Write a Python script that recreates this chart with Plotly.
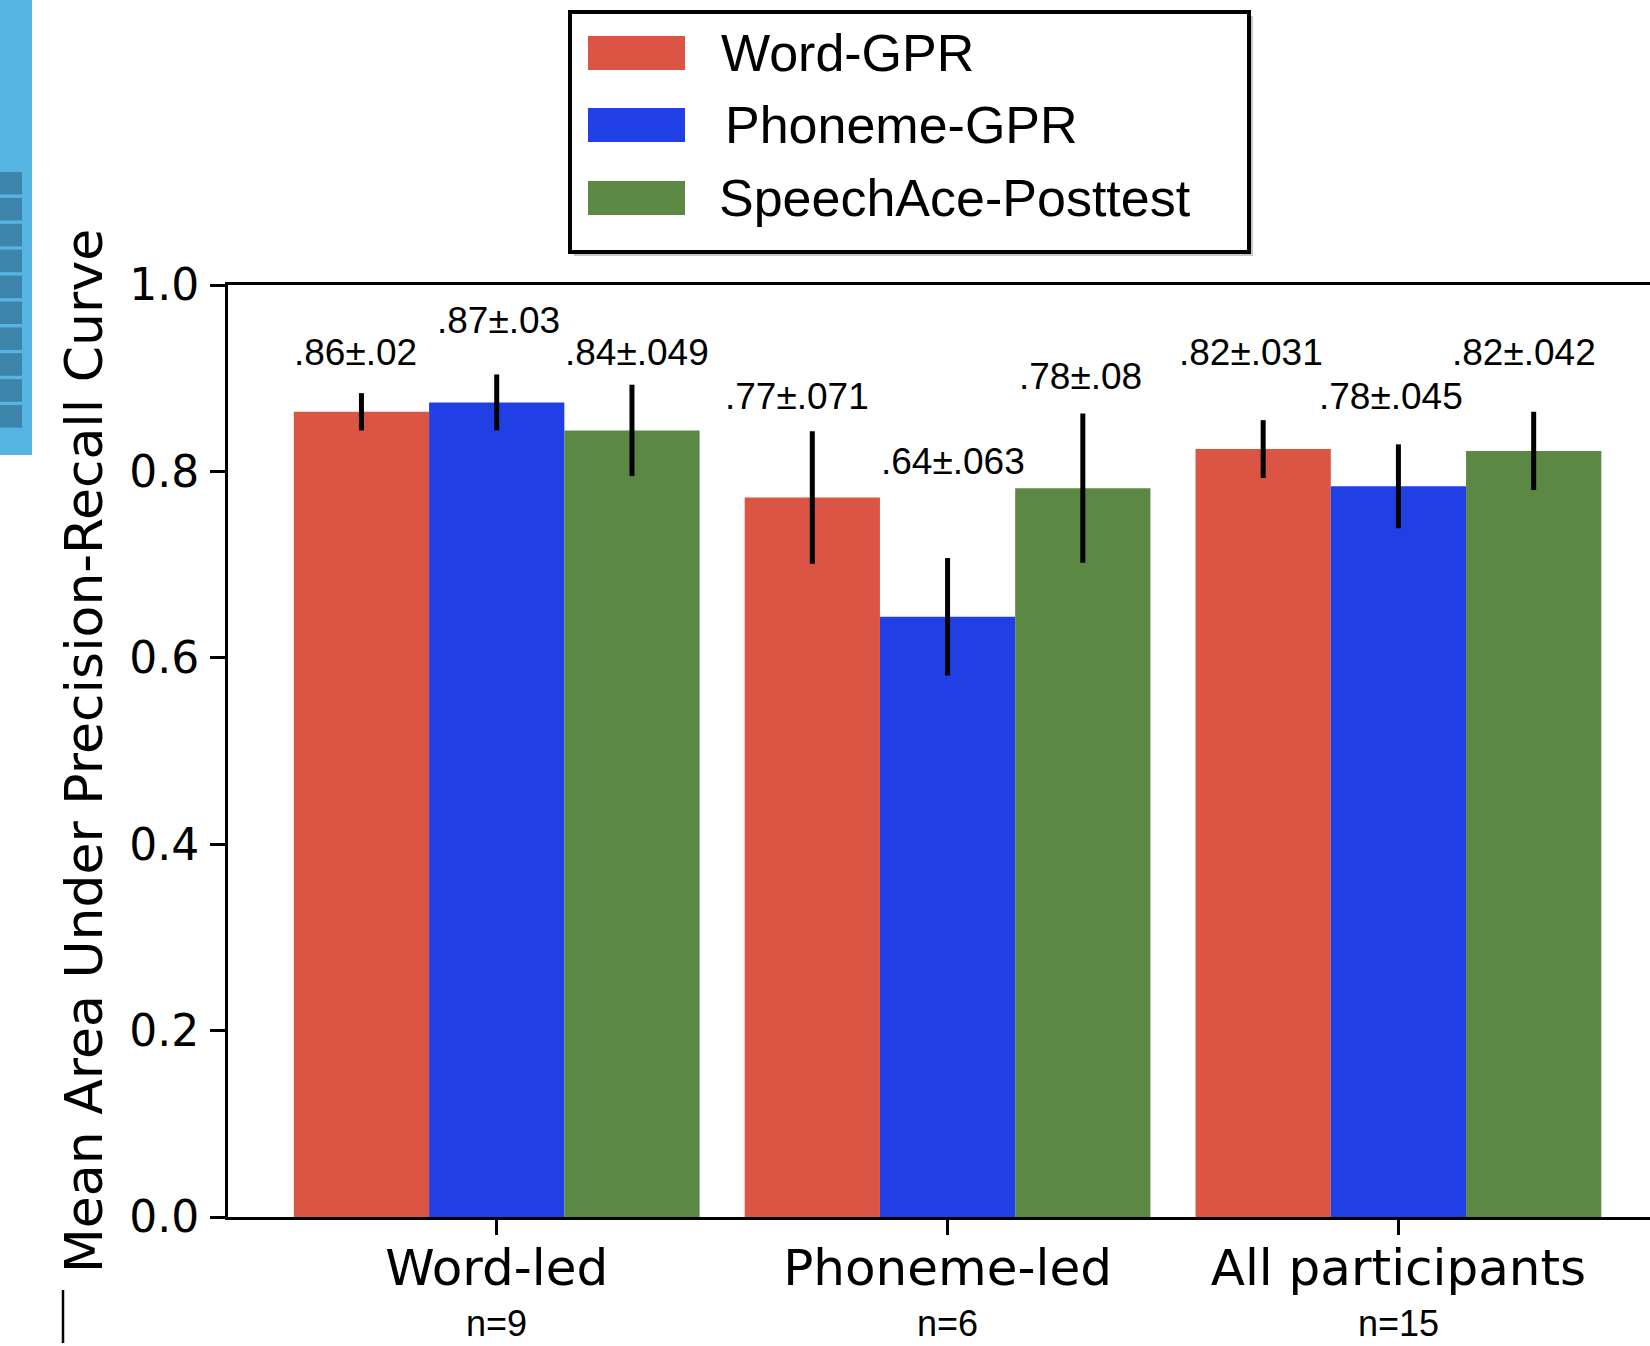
import plotly.graph_objects as go

# ---- data -------------------------------------------------------------
groups = ["Word-led", "Phoneme-led", "All participants"]
group_sizes = ["n=9", "n=6", "n=15"]
series_names = ["Word-GPR", "Phoneme-GPR", "SpeechAce-Posttest"]

word_gpr_mean = [0.864, 0.772, 0.824]
word_gpr_err = [0.02, 0.071, 0.031]
phoneme_gpr_mean = [0.874, 0.644, 0.784]
phoneme_gpr_err = [0.03, 0.063, 0.045]
speechace_mean = [0.844, 0.782, 0.822]
speechace_err = [0.049, 0.08, 0.042]

y_ticks = [0.0, 0.2, 0.4, 0.6, 0.8, 1.0]

# ---- styling ----------------------------------------------------------
colors = ["#DB5444", "#2040E6", "#5B8842"]
W, H = 1650, 1346
L, R, T, B = 228, 0, 285, 129
PW, PH = W - L - R, H - T - B
BAR_W = 0.3
offsets = [-BAR_W, 0.0, BAR_W]

# label placement (data-y of each value label, per series then group)
label_y = [
    [0.928, 0.880, 0.928],   # Word-GPR
    [0.962, 0.811, 0.880],   # Phoneme-GPR
    [0.928, 0.902, 0.928],   # SpeechAce-Posttest
]
label_dx = [
    [-6, -15, -12],
    [2, 5, -7],
    [5, -2, -10],
]


def px(x):
    return (x - L) / PW


def py(y):
    return (H - B - y) / PH


def fmt(v, digits):
    return f"{v:.{digits}f}".lstrip("0")


def fmt_err(e):
    return f"{e:g}".lstrip("0")


means = [word_gpr_mean, phoneme_gpr_mean, speechace_mean]
errs = [word_gpr_err, phoneme_gpr_err, speechace_err]
xs = list(range(len(groups)))

fig = go.Figure()
for name, m, e, c in zip(series_names, means, errs, colors):
    fig.add_trace(go.Bar(
        name=name, x=xs, y=m,
        marker=dict(color=c, line=dict(width=0)),
        error_y=dict(type="data", array=e, visible=True,
                     color="black", thickness=5, width=0),
    ))

annotations = []
for s, (m, e) in enumerate(zip(means, errs)):
    for g in xs:
        annotations.append(dict(
            x=g + offsets[s], y=label_y[s][g], xref="x", yref="y",
            text=f"{fmt(m[g], 2)}±{fmt_err(e[g])}",
            showarrow=False, xshift=label_dx[s][g],
            xanchor="center", yanchor="middle",
            font=dict(family="Liberation Sans, Arial", size=37, color="black"),
        ))

# group sizes under the category labels
for g, txt in zip(xs, group_sizes):
    annotations.append(dict(
        x=g, y=py(1323), xref="x", yref="paper", text=txt, showarrow=False,
        xanchor="center", yanchor="middle",
        font=dict(family="Liberation Sans, Arial", size=36, color="black"),
    ))

# y-axis title
annotations.append(dict(
    x=px(84), y=0.5, xref="paper", yref="paper",
    text="Mean Area Under Precision-Recall Curve", textangle=-90,
    showarrow=False, xanchor="center", yanchor="middle",
    font=dict(family="DejaVu Sans", size=52, color="black"),
))

shapes = []
# boxed legend
box = (570, 12, 1249, 252)
shapes.append(dict(type="rect", xref="paper", yref="paper",
                   x0=px(box[0] + 4), x1=px(box[2] + 4),
                   y0=py(box[1] + 4), y1=py(box[3] + 4),
                   fillcolor="rgba(0,0,0,0.22)", line=dict(width=0), layer="above"))
shapes.append(dict(type="rect", xref="paper", yref="paper",
                   x0=px(box[0]), x1=px(box[2]), y0=py(box[1]), y1=py(box[3]),
                   fillcolor="white", line=dict(color="black", width=4), layer="above"))
row_centers = [53, 125, 198]
text_x = [719, 723, 717]
for name, c, yc, tx in zip(series_names, colors, row_centers, text_x):
    shapes.append(dict(type="rect", xref="paper", yref="paper",
                       x0=px(588), x1=px(685), y0=py(yc - 17), y1=py(yc + 17),
                       fillcolor=c, line=dict(width=0), layer="above"))
    annotations.append(dict(
        x=px(tx), y=py(yc), xref="paper", yref="paper", text=name,
        showarrow=False, xanchor="left", yanchor="middle",
        font=dict(family="Liberation Sans, Arial", size=52, color="black"),
    ))

# side panel edge on the far left
shapes.append(dict(type="rect", xref="paper", yref="paper",
                   x0=px(0), x1=px(32), y0=py(0), y1=py(455),
                   fillcolor="#56B4E3", line=dict(width=0), layer="above"))
for i in range(10):
    top = 172 + i * 25.9
    shapes.append(dict(type="rect", xref="paper", yref="paper",
                       x0=px(0), x1=px(22), y0=py(top), y1=py(top + 22.5),
                       fillcolor="#3D84AA", line=dict(width=0), layer="above"))
shapes.append(dict(type="line", xref="paper", yref="paper",
                   x0=px(63), x1=px(63), y0=py(1290), y1=py(1343),
                   line=dict(color="black", width=2.5), layer="above"))

fig.update_layout(
    width=W, height=H,
    margin=dict(l=L, r=R, t=T, b=B, autoexpand=False),
    paper_bgcolor="white", plot_bgcolor="white",
    barmode="group", bargap=0.1, bargroupgap=0.0,
    showlegend=False,
    annotations=annotations, shapes=shapes,
    xaxis=dict(
        range=[-0.596, 2.558], tickmode="array", tickvals=xs, ticktext=groups,
        showline=True, linecolor="black", linewidth=3, mirror=True,
        ticks="outside", ticklen=15, tickwidth=2.5, tickcolor="black",
        ticklabelstandoff=-10,
        tickfont=dict(family="DejaVu Sans", size=50, color="black"),
        showgrid=False, zeroline=False,
    ),
    yaxis=dict(
        range=[0, 1], tickmode="array", tickvals=y_ticks,
        ticktext=[f"{v:.1f}" for v in y_ticks],
        showline=True, linecolor="black", linewidth=3, mirror=False,
        ticks="outside", ticklen=15, tickwidth=2.5, tickcolor="black",
        ticklabelstandoff=2,
        tickfont=dict(family="DejaVu Sans", size=44, color="black"),
        showgrid=False, zeroline=False,
    ),
)

fig.write_html("out.html")
